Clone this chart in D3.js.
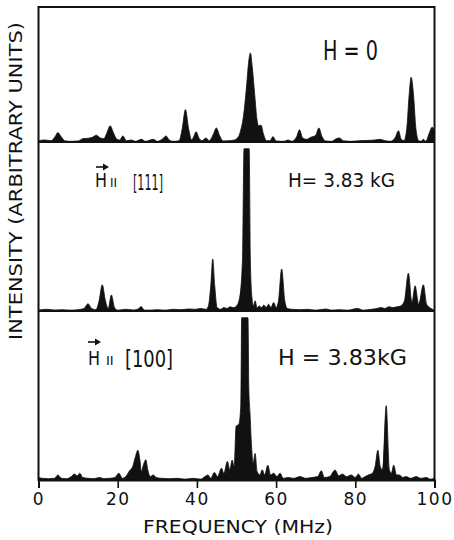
<!DOCTYPE html>
<html>
<head>
<meta charset="utf-8">
<script src="https://cdn.jsdelivr.net/npm/d3@7"></script>
<style>
  body { margin: 0; background: #fff; }
  svg { display: block; }
  text { font-family: "DejaVu Sans", sans-serif; fill: #111; }
</style>
</head>
<body>
<div id="chart"></div>
<script>
// frequency axis ticks (MHz)
const freqTicks = [0, 20, 40, 60, 80, 100];

// traced spectra: [frequency MHz, intensity (% of panel height)]
const spectrumZeroField = [
  [0,1],[1.5,1.5],[3.2,1],[4.2,4],[4.9,7],[5.7,4],[6.6,1],[8,0.5],[10,0.8],[11.2,2.5],[12.6,2.8],
  [13.6,3.5],[14.6,5],[15.6,3],[16.5,2.5],[17.3,7],[18.1,12],[18.9,7],[19.8,2],[20.5,1.5],[21.3,4.5],
  [22.2,1],[23.5,1.5],[24.5,0.5],[26,2],[27,0.5],[29,2],[30,0.5],[31.4,2.5],[32.2,4.5],[33,1.5],
  [34,0.5],[35.5,1],[36.3,10],[37.1,24],[37.9,10],[38.7,1.5],[39.2,4],[39.8,7.6],[40.5,3],[41.3,1],
  [42.3,3],[43.1,1],[44.2,6],[44.9,10.4],[45.7,5],[46.6,0.8],[48,1],[49.5,1.5],[50.5,4],[51,8],
  [51.8,20],[52.5,40],[53.1,60],[53.5,66],[54,55],[54.6,35],[55.2,16],[55.6,12],[56.2,12.5],[56.8,6],
  [57.6,1],[58.5,1],[59.2,4],[60,0.8],[62,0.5],[63,1.5],[64,0.5],[65.2,4],[65.9,9],[66.7,3],[67.7,2],
  [68.8,3.5],[70,5],[70.8,10.4],[71.6,4],[72.5,0.8],[74,0.5],[75.2,2.5],[76,3],[77,1],[79,0.5],
  [81,1],[83,1.2],[85,1.5],[86.1,2],[87.5,1],[89,0.5],[90.2,4],[90.9,8.4],[91.6,2],[92.3,1],[93,10],
  [93.6,35],[94.1,48],[94.7,35],[95.3,10],[96,1],[96.6,0.5],[97.2,2],[97.8,0.5],[98.6,6],[99.4,11],[100,8]
];

const spectrum111 = [
  [0,0.5],[2,1],[4,0.6],[6,0.8],[8,0.5],[10,0.8],[11.5,1.5],[12.5,4.3],[13.4,1.5],[14.5,0.8],[15.3,6],
  [16.1,15.5],[16.9,6],[17.6,1.5],[18.4,9.5],[19.2,2],[20,0.5],[22,1],[24,0.6],[25.2,1.2],[25.9,2.6],
  [26.7,0.6],[28,0.5],[30,0.8],[32,0.5],[34,1],[36,0.8],[38,1.2],[39.5,1],[41,1.5],[42.3,1],[42.9,3],
  [43.5,15],[44,30.8],[44.5,15],[45.1,2],[46,1],[46.8,2],[47.6,1.5],[48.4,2.5],[49.2,2],[50,3],[50.8,8],
  [51.5,30],[51.9,96],[53.2,96],[53.5,30],[53.9,8],[54.3,3],[54.7,6],[55.2,2],[55.8,3],[56.3,2],
  [56.9,3.5],[57.5,2],[58.1,4],[58.7,2],[59.4,5],[60,2],[60.6,6],[61.4,24.8],[62.2,6],[62.8,1.5],
  [64,1],[66,0.8],[68,1],[70,0.5],[72.6,1.2],[74,0.5],[76,0.8],[78,0.5],[80.6,1.5],[82,0.5],[84,1],
  [85.5,1.5],[86.5,2],[87.5,1.5],[88.5,2.5],[89.5,2],[90.5,2.5],[91.5,3],[92.4,6],[93.4,22.4],[94.3,5],
  [95.1,14.9],[96,4],[97.2,15.5],[98,4],[98.8,2],[100,0.5]
];

const spectrum100 = [
  [0,1.5],[1,1],[2.5,0.8],[4,1],[4.9,3],[5.8,1],[7,0.8],[8.3,2],[9,3.5],[9.8,2.5],[10.4,4],[11.2,1.5],
  [12.5,1],[14,0.8],[15.4,1.5],[16.5,0.8],[18,1],[19.3,1.5],[20.3,4],[21.2,1],[22,2],[23,5.5],[23.8,8],
  [24.5,14],[25.1,17.6],[25.6,12],[26,5],[26.5,9],[27.1,12],[27.6,6],[28.2,2],[29,3],[29.7,1.5],[31,1],
  [33,0.8],[35,1],[37,0.5],[39,1],[41,0.5],[42,2],[42.8,3],[43.5,1],[44.4,4.5],[45.2,2],[46.2,7],
  [46.8,4],[47.7,11],[48.3,6],[48.9,11.8],[49.4,8],[49.9,31.8],[50.6,33],[51.1,45],[51.3,96],[52.9,96],
  [53.1,55],[53.4,40],[53.8,20],[54.2,10],[54.7,15.7],[55.2,5],[55.9,3],[56.5,6],[57.1,3],[57.9,8.8],
  [58.6,3],[59.4,4],[60.2,2],[61,4],[61.8,1],[63,1.5],[64.5,1],[66,2],[67.5,1],[69,1.5],[70.5,2],
  [71.4,5.5],[72.2,1.5],[73.5,2],[74.9,5.9],[75.8,2.5],[76.8,3.5],[77.8,2],[79,3],[80,1.5],[80.8,3.5],
  [81.6,1],[82.5,2],[83.3,3],[84.3,4],[85,8],[85.7,17.6],[86.3,8],[86.9,6],[87.8,44],[88.6,6],[89.1,4],
  [89.7,8.8],[90.4,3],[91.1,3],[92,1.5],[92.8,2],[94,1],[95.4,2],[96.5,1],[97.9,1.5],[99,0.5],[100,1]
];

const svgWidth = 454;
const svgHeight = 540;
const left = 38.5, right = 434.5;

// vertical extent of each stacked panel
const panels = [
  { spectrum: spectrumZeroField, top: 7, bottom: 142 },
  { spectrum: spectrum111, top: 142, bottom: 311 },
  { spectrum: spectrum100, top: 311, bottom: 480 }
];

const svg = d3.select("#chart").append("svg")
  .attr("width", svgWidth)
  .attr("height", svgHeight);

const x = d3.scaleLinear().domain([0, 100]).range([left, right]);

panels.forEach((p, i) => {
  const y = d3.scaleLinear().domain([0, 100]).range([p.bottom, p.top]);
  svg.append("clipPath").attr("id", "clip" + i)
    .append("rect")
    .attr("x", left).attr("y", p.top)
    .attr("width", right - left).attr("height", p.bottom - p.top);

  const area = d3.area()
    .x(d => x(d[0]))
    .y0(y(0))
    .y1(d => y(d[1]))
    .curve(d3.curveMonotoneX);

  svg.append("path")
    .datum(p.spectrum)
    .attr("clip-path", `url(#clip${i})`)
    .attr("fill", "#111")
    .attr("stroke", "#111")
    .attr("stroke-width", 0.8)
    .attr("d", area);
});

// frame and panel dividers
svg.append("rect")
  .attr("x", left).attr("y", panels[0].top)
  .attr("width", right - left).attr("height", panels[2].bottom - panels[0].top)
  .attr("fill", "none").attr("stroke", "#111").attr("stroke-width", 2);

svg.selectAll(".divider")
  .data(panels.slice(1))
  .enter().append("line")
  .attr("class", "divider")
  .attr("x1", left).attr("x2", right)
  .attr("y1", d => d.top).attr("y2", d => d.top)
  .attr("stroke", "#111").attr("stroke-width", 2);

// bottom axis
const xAxis = svg.append("g")
  .attr("transform", `translate(0,${panels[2].bottom})`)
  .call(d3.axisBottom(x).tickValues(freqTicks).tickSize(8).tickPadding(5).tickFormat(d3.format("d")));

xAxis.select(".domain").attr("stroke", "#111").attr("stroke-width", 2);
xAxis.selectAll(".tick line").attr("stroke", "#111").attr("stroke-width", 1.6);
xAxis.selectAll(".tick text")
  .attr("fill", "#111")
  .style("font-family", "DejaVu Sans, sans-serif")
  .style("font-size", "17px")
  .style("letter-spacing", "1.5px");

svg.append("text")
  .attr("x", 143).attr("y", 533)
  .attr("textLength", 190).attr("lengthAdjust", "spacingAndGlyphs")
  .style("font-size", "17px")
  .text("FREQUENCY  (MHz)");

svg.append("text")
  .attr("transform", "translate(22,340) rotate(-90)")
  .attr("textLength", 318).attr("lengthAdjust", "spacingAndGlyphs")
  .style("font-size", "17px")
  .text("INTENSITY (ARBITRARY UNITS)");

// panel annotations
function label(tx, ty, size, len, str) {
  const t = svg.append("text")
    .attr("x", tx).attr("y", ty)
    .style("font-size", size + "px")
    .text(str);
  if (len) t.attr("textLength", len).attr("lengthAdjust", "spacingAndGlyphs");
}

function vecArrow(x1, x2, ay) {
  svg.append("line")
    .attr("x1", x1).attr("x2", x2 - 3).attr("y1", ay).attr("y2", ay)
    .attr("stroke", "#111").attr("stroke-width", 1.6);
  svg.append("path")
    .attr("d", `M${x2},${ay} L${x2 - 6},${ay - 3.5} L${x2 - 6},${ay + 3.5} Z`)
    .attr("fill", "#111");
}

label(323, 60, 26, 55, "H = 0");

label(95, 187, 19, 12, "H");
label(110, 187, 12, 0, "II");
label(133, 190, 22, 30, "[111]");
vecArrow(96, 109, 167);
label(288, 187, 19, 107, "H= 3.83 kG");

label(88, 365, 20, 12, "H");
label(106, 365, 13, 0, "II");
label(125, 367, 23, 48, "[100]");
vecArrow(88, 101, 342);
label(278, 365, 21, 129, "H = 3.83kG");
</script>
</body>
</html>
